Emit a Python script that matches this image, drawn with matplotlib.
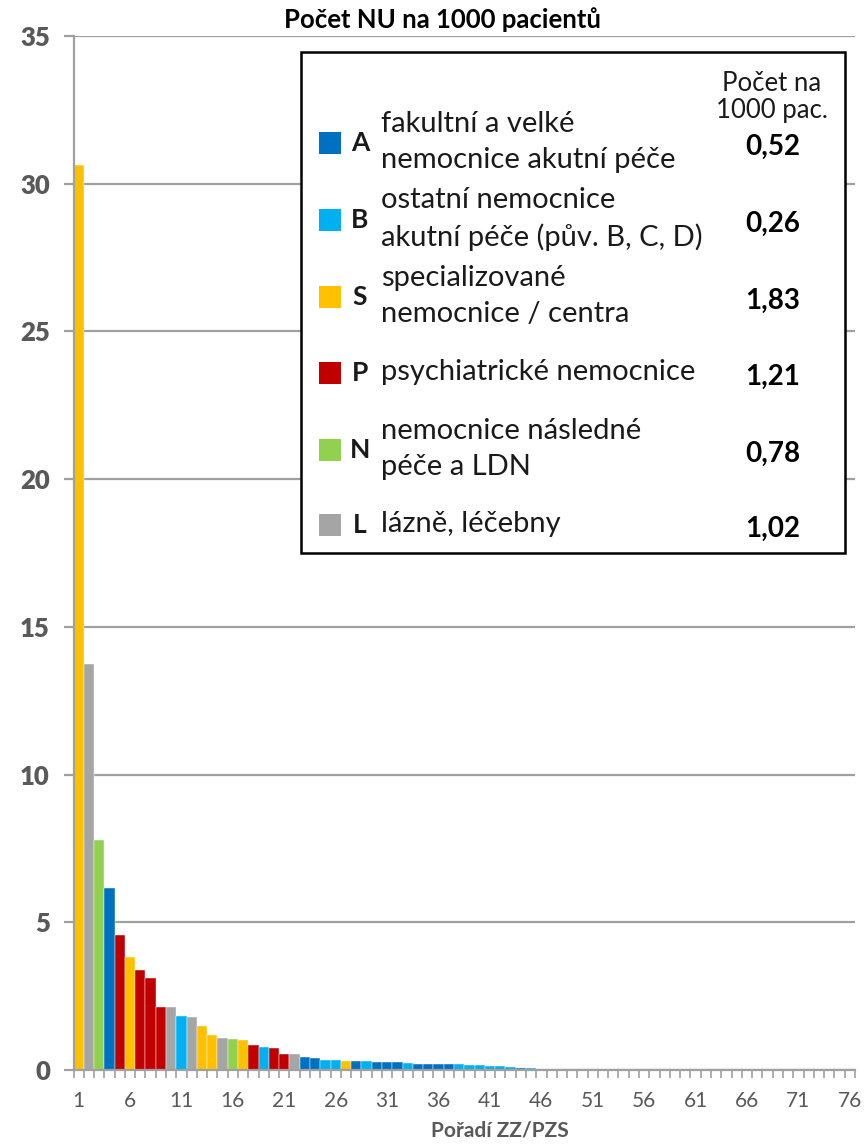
import matplotlib
matplotlib.use("Agg")
import matplotlib.pyplot as plt
from matplotlib.patches import Rectangle
from matplotlib.ticker import FixedLocator
from matplotlib.font_manager import FontProperties

plt.rcParams['font.family'] = ['Lato', 'DejaVu Sans']

# ---- data ----
types = ['S', 'L', 'N', 'A', 'P', 'S', 'P', 'P', 'P', 'L',
         'B', 'L', 'S', 'S', 'L', 'N', 'S', 'P', 'B', 'P',
         'P', 'L', 'A', 'A', 'B', 'B', 'S', 'A', 'B', 'A',
         'A', 'A', 'B', 'A', 'A', 'A', 'A', 'B', 'B', 'B',
         'B', 'B', 'B', 'A', 'B', 'A', 'L'] + ['L'] * 29
values = [30.65, 13.74, 7.77, 6.17, 4.57, 3.82, 3.37, 3.10, 2.14, 2.13,
          1.82, 1.80, 1.49, 1.18, 1.09, 1.04, 1.00, 0.83, 0.77, 0.73,
          0.55, 0.54, 0.43, 0.42, 0.34, 0.33, 0.32, 0.29, 0.29, 0.28,
          0.27, 0.27, 0.23, 0.21, 0.19, 0.19, 0.19, 0.19, 0.17, 0.16,
          0.14, 0.13, 0.09, 0.08, 0.07, 0.04, 0.01] + [0.0] * 29
positions = list(range(1, len(values) + 1))

colors = {'A': '#0070C0', 'B': '#00B0F0', 'S': '#FFC000',
          'P': '#C00000', 'N': '#92D050', 'L': '#A5A5A5'}

legend_keys = ['A', 'B', 'S', 'P', 'N', 'L']
legend_desc = ['fakultní a velké\nnemocnice akutní péče',
               'ostatní nemocnice\nakutní péče (pův. B, C, D)',
               'specializované\nnemocnice / centra',
               'psychiatrické nemocnice',
               'nemocnice následné\npéče a LDN',
               'lázně, léčebny']
legend_vals = ['0,52', '0,26', '1,83', '1,21', '0,78', '1,02']

title = 'Počet NU na 1000 pacientů'
xlabel = 'Pořadí ZZ/PZS'
xtick_pos = list(range(1, 77, 5))
xtick_labels = [str(i) for i in xtick_pos]
ytick_pos = [0, 5, 10, 15, 20, 25, 30, 35]
ytick_labels = [str(v) for v in ytick_pos]

# ---- figure ----
W, H = 866, 1144
fig = plt.figure(figsize=(W / 100, H / 100), dpi=100)

def fx(x):
    return x / W

def fy(y):
    return 1 - y / H

ax = fig.add_axes([fx(73.5), fy(1070), fx(855) - fx(73.5), fy(36) - fy(1070)])

grid_c = '#A0A0A0'
ax.bar(positions, values, width=1.0, color=[colors[t] for t in types],
       edgecolor='white', linewidth=0.3, zorder=3)

ax.set_xlim(0.5, 76.5)
ax.set_ylim(0, 35)
ax.grid(axis='y', color=grid_c, linewidth=1.6, zorder=0)
ax.set_axisbelow(True)

for s in ['top', 'right']:
    ax.spines[s].set_visible(False)
for s in ['left', 'bottom']:
    ax.spines[s].set_color(grid_c)
    ax.spines[s].set_linewidth(1.6)
    ax.spines[s].set_zorder(4)

ax.set_xticks(xtick_pos)
ax.set_xticklabels(xtick_labels)
ax.xaxis.set_minor_locator(FixedLocator([i + 0.5 for i in range(0, 77)]))
ax.tick_params(axis='x', which='major', length=0, pad=15, labelsize=15,
               labelcolor='#595959')
ax.tick_params(axis='x', which='minor', length=6, width=1.2, color=grid_c,
               direction='out')
ax.tick_params(axis='y', which='major', length=7, width=1.6, color=grid_c,
               labelcolor='#595959', pad=10)
ytick_font = FontProperties(family=['Lato', 'DejaVu Sans'], weight='heavy',
                            size=18.5)
ax.set_yticks(ytick_pos)
ax.set_yticklabels(ytick_labels, fontproperties=ytick_font, color='#595959')

ax.set_xlabel(xlabel, fontsize=15, fontweight='bold', color='#595959')
ax.xaxis.set_label_coords((500 - 73.5) / (855 - 73.5), -0.049)

fig.text(fx(443), fy(20), title, ha='center', va='center',
         fontsize=18.5, fontweight='bold', color='black')

# ---- custom legend box ----
box = Rectangle((fx(301), fy(553)), fx(845) - fx(301), fy(52) - fy(553),
                transform=fig.transFigure, facecolor='white',
                edgecolor='black', linewidth=1.8, zorder=10)
fig.patches.append(box)

fig.text(fx(772), fy(97), 'Počet na\n1000 pac.', ha='center', va='center',
         fontsize=18.5, color='#1a1a1a', linespacing=1.08, zorder=11)

row_y = [143, 220, 297, 373, 450, 525]
for key, desc, val, y in zip(legend_keys, legend_desc, legend_vals, row_y):
    sq = Rectangle((fx(319), fy(y + 11)), fx(341) - fx(319), fy(y - 11) - fy(y + 11),
                   transform=fig.transFigure, facecolor=colors[key],
                   edgecolor='none', zorder=11)
    fig.patches.append(sq)
    fig.text(fx(360), fy(y), key, ha='center', va='center', fontsize=19,
             fontweight='bold', color='#1a1a1a', zorder=11)
    fig.text(fx(381), fy(y - 1), desc, ha='left', va='center', fontsize=21,
             color='#1a1a1a', linespacing=1.45, zorder=11)
    fig.text(fx(773), fy(y + 4), val, ha='center', va='center', fontsize=20,
             fontweight='bold', color='black', zorder=11)

fig.savefig('out.png', dpi=100)
